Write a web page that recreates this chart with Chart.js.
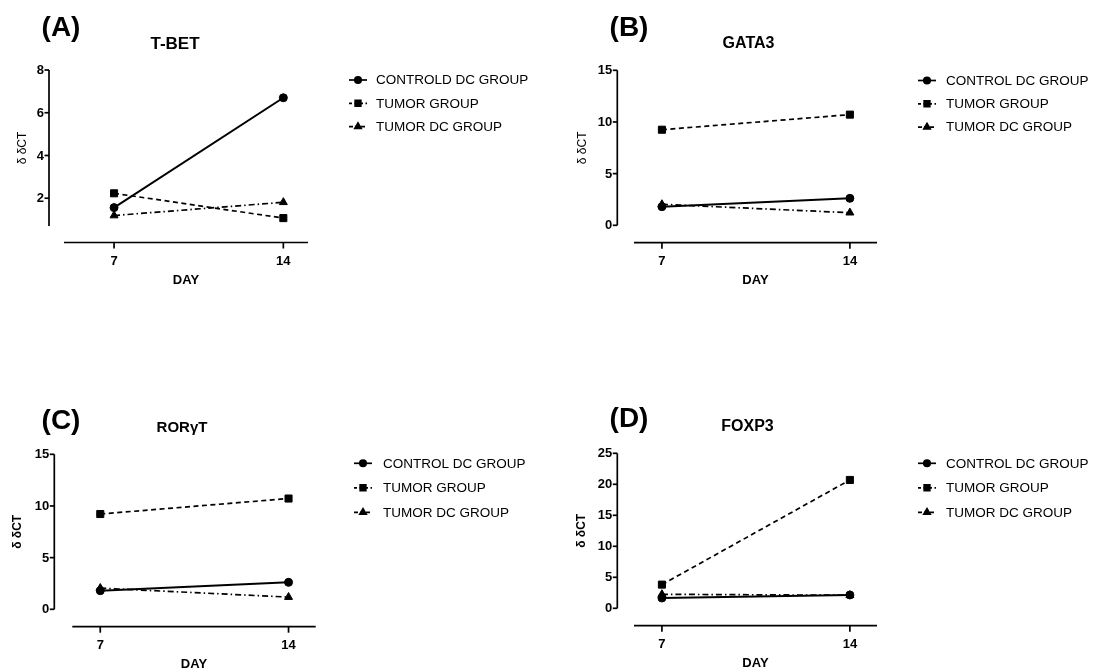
<!DOCTYPE html>
<html>
<head>
<meta charset="utf-8">
<title>δ δCT by day</title>
<script src="https://cdn.jsdelivr.net/npm/chart.js@4.4.1/dist/chart.umd.min.js"></script>
<style>
  body { margin: 0; background: #fff; }
  #wrap { position: relative; width: 1099px; height: 670px; overflow: hidden; }
  .panel { position: absolute; }
</style>
</head>
<body>
<div id="wrap">
  <div class="panel" style="left:0;top:0;width:540px;height:335px"><canvas id="chartA"></canvas></div>
  <div class="panel" style="left:540px;top:0;width:559px;height:335px"><canvas id="chartB"></canvas></div>
  <div class="panel" style="left:0;top:335px;width:540px;height:335px"><canvas id="chartC"></canvas></div>
  <div class="panel" style="left:540px;top:335px;width:559px;height:335px"><canvas id="chartD"></canvas></div>
</div>
<script>
const FONT = "'Liberation Sans', Arial, Helvetica, sans-serif";

// days sampled
const days = [7, 14];
const dayTicks = [7, 14];

// T-BET
const tbetControl = [1.56, 6.70];
const tbetTumor = [2.23, 1.07];
const tbetTumorDc = [1.19, 1.81];
const tbetTicks = [2, 4, 6, 8];

// GATA3
const gata3Control = [1.80, 2.61];
const gata3Tumor = [9.25, 10.71];
const gata3TumorDc = [2.03, 1.22];
const gata3Ticks = [0, 5, 10, 15];

// RORyT
const rorControl = [1.80, 2.61];
const rorTumor = [9.22, 10.72];
const rorTumorDc = [2.05, 1.18];
const rorTicks = [0, 5, 10, 15];

// FOXP3
const foxp3Control = [1.66, 2.15];
const foxp3Tumor = [3.82, 20.7];
const foxp3TumorDc = [2.26, 2.10];
const foxp3Ticks = [0, 5, 10, 15, 20, 25];

const groupLabels = ["CONTROL DC GROUP", "TUMOR GROUP", "TUMOR DC GROUP"];
const groupLabelsA = ["CONTROLD DC GROUP", "TUMOR GROUP", "TUMOR DC GROUP"];

// layout of each panel, page pixels
const panels = [
  { id: "chartA", box: [0, 0], letter: "(A)", title: "T-BET", titleSize: 17, titleX: 175, titleY: 44,
    letterX: 61, letterY: 28.5, yTitleX: 23, yTitleBold: false,
    series: [tbetControl, tbetTumor, tbetTumorDc], labels: groupLabelsA, yTicks: tbetTicks,
    yMin: 0.7, yMax: 8, xMin: 4.93, xMax: 15.02,
    area: { l: 64, r: 308, t: 70, b: 226 }, yAxisX: 49, xAxisY: 242.5,
    legend: { sx: 358, tx: 376, y: 80, gap: 23.3 } },
  { id: "chartB", box: [540, 0], letter: "(B)", title: "GATA3", titleSize: 16, titleX: 748.5, titleY: 44,
    letterX: 629, letterY: 28, yTitleX: 583, yTitleBold: false,
    series: [gata3Control, gata3Tumor, gata3TumorDc], labels: groupLabels, yTicks: gata3Ticks,
    yMin: 0, yMax: 15, xMin: 5.96, xMax: 15.01,
    area: { l: 634, r: 877, t: 70.3, b: 225.3 }, yAxisX: 617.3, xAxisY: 242.7,
    legend: { sx: 927, tx: 946, y: 80.5, gap: 23.3 } },
  { id: "chartC", box: [0, 335], letter: "(C)", title: "RORγT", titleSize: 15, titleX: 182, titleY: 427.5,
    letterX: 61, letterY: 421, yTitleX: 18, yTitleBold: true,
    series: [rorControl, rorTumor, rorTumorDc], labels: groupLabels, yTicks: rorTicks,
    yMin: 0, yMax: 15, xMin: 5.96, xMax: 15.01,
    area: { l: 72.3, r: 315.7, t: 454.3, b: 609.3 }, yAxisX: 54.3, xAxisY: 626.7,
    legend: { sx: 363, tx: 383, y: 463.3, gap: 24.5 } },
  { id: "chartD", box: [540, 335], letter: "(D)", title: "FOXP3", titleSize: 16, titleX: 747.5, titleY: 427,
    letterX: 629, letterY: 419, yTitleX: 582, yTitleBold: true,
    series: [foxp3Control, foxp3Tumor, foxp3TumorDc], labels: groupLabels, yTicks: foxp3Ticks,
    yMin: 0, yMax: 25, xMin: 5.96, xMax: 15.01,
    area: { l: 634, r: 877, t: 453.3, b: 608.3 }, yAxisX: 617.3, xAxisY: 625.7,
    legend: { sx: 927, tx: 946, y: 463.3, gap: 24.5 } }
];

// line / marker look per group
const groupStyles = [
  { dash: [], width: 2, point: "circle", radius: 4, legendDash: [] },
  { dash: [5, 3.5], width: 1.7, point: "rect", radius: 5, legendDash: [3, 2.5] },
  { dash: [6, 3, 1.5, 3], width: 1.7, point: "triangle", radius: 4.6, legendDash: [4, 2] }
];

function decor(p) {
  const ox = p.box[0], oy = p.box[1];
  return {
    id: "decor_" + p.id,
    afterDraw(chart) {
      const ctx = chart.ctx;
      const xs = chart.scales.x, ys = chart.scales.y;
      ctx.save();
      ctx.strokeStyle = "#000";
      ctx.fillStyle = "#000";
      ctx.lineWidth = 1.7;
      ctx.setLineDash([]);

      // y axis with ticks
      const ax = p.yAxisX - ox;
      ctx.beginPath();
      ctx.moveTo(ax, ys.getPixelForValue(p.yMax));
      ctx.lineTo(ax, ys.getPixelForValue(p.yMin));
      ctx.stroke();
      ctx.font = "bold 13px " + FONT;
      ctx.textAlign = "right";
      ctx.textBaseline = "middle";
      p.yTicks.forEach(t => {
        const py = ys.getPixelForValue(t);
        ctx.beginPath();
        ctx.moveTo(ax - 4.5, py);
        ctx.lineTo(ax, py);
        ctx.stroke();
        ctx.fillText(String(t), ax - 5, py + 0.5);
      });

      // x axis, drawn apart from the y axis
      const ay = p.xAxisY - oy;
      ctx.beginPath();
      ctx.moveTo(xs.getPixelForValue(p.xMin), ay);
      ctx.lineTo(xs.getPixelForValue(p.xMax), ay);
      ctx.stroke();
      ctx.textAlign = "center";
      dayTicks.forEach(t => {
        const px = xs.getPixelForValue(t);
        ctx.beginPath();
        ctx.moveTo(px, ay);
        ctx.lineTo(px, ay + 6);
        ctx.stroke();
        ctx.fillText(String(t), px, ay + 18.5);
      });
      ctx.fillText("DAY", (xs.getPixelForValue(p.xMin) + xs.getPixelForValue(p.xMax)) / 2, ay + 38);

      // y title
      ctx.save();
      ctx.translate(p.yTitleX - ox, (ys.getPixelForValue(p.yMax) + ys.getPixelForValue(p.yMin)) / 2);
      ctx.rotate(-Math.PI / 2);
      ctx.font = (p.yTitleBold ? "bold " : "") + "12px " + FONT;
      ctx.fillText("δ δCT", 0, 0);
      ctx.restore();

      // panel letter and title
      ctx.font = "bold 28px " + FONT;
      ctx.fillText(p.letter, p.letterX - ox, p.letterY - oy);
      ctx.font = "bold " + p.titleSize + "px " + FONT;
      ctx.fillText(p.title, p.titleX - ox, p.titleY - oy);

      // legend
      ctx.font = "13.5px " + FONT;
      ctx.textAlign = "left";
      chart.data.datasets.forEach((ds, i) => {
        const st = groupStyles[i];
        const ly = p.legend.y - oy + i * p.legend.gap;
        const lx = p.legend.sx - ox;
        ctx.lineWidth = 1.7;
        ctx.setLineDash(st.legendDash);
        ctx.beginPath();
        ctx.moveTo(lx - 9, ly);
        ctx.lineTo(lx + 9, ly);
        ctx.stroke();
        ctx.setLineDash([]);
        Chart.helpers.drawPoint(ctx, { pointStyle: st.point, rotation: 0, radius: st.radius * 0.8, borderWidth: 1 }, lx, ly);
        ctx.fillText(ds.label, p.legend.tx - ox, ly + 0.5);
      });
      ctx.restore();
    }
  };
}

panels.forEach(p => {
  const ox = p.box[0], oy = p.box[1];
  const el = document.getElementById(p.id);
  const w = el.parentNode.clientWidth, h = el.parentNode.clientHeight;
  new Chart(el, {
    type: "line",
    data: {
      datasets: p.series.map((vals, i) => ({
        label: p.labels[i],
        data: days.map((d, k) => ({ x: d, y: vals[k] })),
        borderColor: "#000",
        backgroundColor: "#000",
        borderWidth: groupStyles[i].width,
        borderDash: groupStyles[i].dash,
        pointStyle: groupStyles[i].point,
        pointRadius: groupStyles[i].radius,
        pointBackgroundColor: "#000",
        pointBorderColor: "#000",
        pointBorderWidth: 1,
        tension: 0,
        clip: false
      }))
    },
    options: {
      responsive: true,
      maintainAspectRatio: false,
      animation: false,
      events: [],
      layout: {
        padding: {
          left: p.area.l - ox,
          right: w - (p.area.r - ox),
          top: p.area.t - oy,
          bottom: h - (p.area.b - oy)
        }
      },
      scales: {
        x: { type: "linear", min: p.xMin, max: p.xMax, display: false },
        y: { type: "linear", min: p.yMin, max: p.yMax, display: false }
      },
      plugins: {
        legend: { display: false },
        title: { display: false },
        tooltip: { enabled: false }
      }
    },
    plugins: [decor(p)]
  });
});
</script>
</body>
</html>
